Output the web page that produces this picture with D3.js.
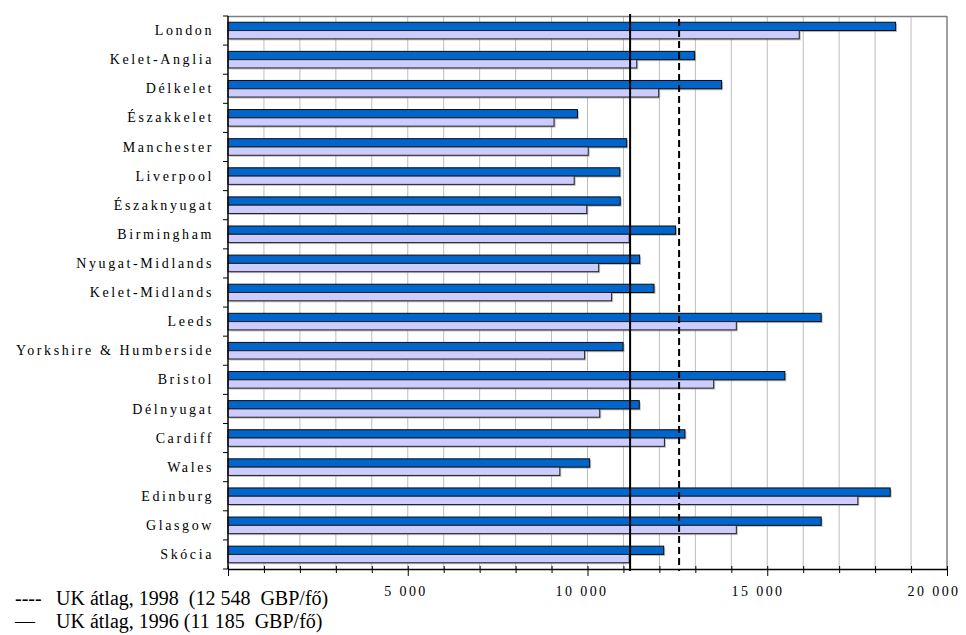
<!DOCTYPE html>
<html>
<head>
<meta charset="utf-8">
<script src="https://cdn.jsdelivr.net/npm/d3@7"></script>
<style>
  html, body { margin: 0; padding: 0; background: #fff; }
  svg { display: block; }
  text { font-family: "Liberation Serif", "Times New Roman", serif; fill: #000; }
</style>
</head>
<body>
<svg id="chart" width="966" height="635"></svg>
<script>
// Regional GDP per head (GBP/fő): 1998 (dark) and 1996 (light)
const categories = [
  "London", "Kelet-Anglia", "Délkelet", "Északkelet", "Manchester", "Liverpool",
  "Északnyugat", "Birmingham", "Nyugat-Midlands", "Kelet-Midlands", "Leeds",
  "Yorkshire & Humberside", "Bristol", "Délnyugat", "Cardiff", "Wales",
  "Edinburg", "Glasgow", "Skócia"
];
const values1998 = [18570, 12980, 13730, 9720, 11090, 10900, 10910, 12450, 11450, 11850,
                    16500, 10990, 15490, 11440, 12710, 10060, 18420, 16500, 12120];
const values1996 = [15890, 11370, 11980, 9070, 10020, 9630, 9980, 11160, 10310, 10670,
                    14140, 9920, 13510, 10340, 12140, 9230, 17520, 14140, 11160];
const ukAvg1998 = 12548;
const ukAvg1996 = 11185;
const xTickLabels = [5000, 10000, 15000, 20000];
const legendItems = [
  { mark: "----", text: "UK átlag, 1998  (12 548  GBP/fő)" },
  { mark: "—",    text: "UK átlag, 1996 (11 185  GBP/fő)" }
];

const svg = d3.select("#chart");
const plotLeft = 228, plotRight = 947, plotTop = 16, plotBottom = 569;

const x = d3.scaleLinear().domain([0, 20000]).range([plotLeft, plotRight]);
const y = d3.scaleBand().domain(categories).range([plotTop, plotBottom]).paddingInner(0).paddingOuter(0);
const bw = y.bandwidth();
const barH = bw * 0.285;
const groupOff = (bw - 2 * barH) / 2;

// vertical gridlines every 1000
svg.append("g").selectAll("line")
  .data(d3.range(1000, 20000, 1000))
  .join("line")
  .attr("x1", d => x(d)).attr("x2", d => x(d))
  .attr("y1", plotTop).attr("y2", plotBottom)
  .attr("stroke", "#bdbdbd").attr("stroke-width", 1);

// plot frame (top and right)
svg.append("line").attr("x1", plotLeft).attr("x2", plotRight).attr("y1", plotTop + 0.5).attr("y2", plotTop + 0.5)
  .attr("stroke", "#808080").attr("stroke-width", 1.5);
svg.append("line").attr("x1", plotRight).attr("x2", plotRight).attr("y1", plotTop).attr("y2", plotBottom)
  .attr("stroke", "#808080").attr("stroke-width", 1.5);

const rows = categories.map((c, i) => ({ c, v98: values1998[i], v96: values1996[i] }));

// bar shadows
const shadow = svg.append("g").attr("fill", "#8c8c8c").attr("opacity", 0.55);
rows.forEach(r => {
  shadow.append("rect").attr("x", x(0) + 1.5).attr("y", y(r.c) + groupOff + 1.5)
    .attr("width", x(r.v98) - x(0)).attr("height", barH);
  shadow.append("rect").attr("x", x(0) + 1.5).attr("y", y(r.c) + groupOff + barH + 1.5)
    .attr("width", x(r.v96) - x(0)).attr("height", barH);
});

// 1998 bars
svg.append("g").selectAll("rect")
  .data(rows).join("rect")
  .attr("x", x(0)).attr("y", d => y(d.c) + groupOff)
  .attr("width", d => x(d.v98) - x(0)).attr("height", barH)
  .attr("fill", "#0066cc").attr("stroke", "#0a0a0a").attr("stroke-width", 1);

// 1996 bars
svg.append("g").selectAll("rect")
  .data(rows).join("rect")
  .attr("x", x(0)).attr("y", d => y(d.c) + groupOff + barH)
  .attr("width", d => x(d.v96) - x(0)).attr("height", barH)
  .attr("fill", "#ccccff").attr("stroke", "#222").attr("stroke-width", 1);

// UK average reference lines
svg.append("line").attr("x1", x(ukAvg1996)).attr("x2", x(ukAvg1996))
  .attr("y1", plotTop - 2).attr("y2", plotBottom + 2)
  .attr("stroke", "#000").attr("stroke-width", 2);
svg.append("line").attr("x1", x(ukAvg1998)).attr("x2", x(ukAvg1998))
  .attr("y1", plotTop + 3).attr("y2", plotBottom + 2)
  .attr("stroke", "#000").attr("stroke-width", 2).attr("stroke-dasharray", "7,4");

// left axis with ticks between categories
svg.append("line").attr("x1", plotLeft).attr("x2", plotLeft).attr("y1", plotTop).attr("y2", plotBottom)
  .attr("stroke", "#000").attr("stroke-width", 1.5);
svg.append("g").selectAll("line")
  .data(d3.range(categories.length + 1))
  .join("line")
  .attr("x1", plotLeft - 5).attr("x2", plotLeft)
  .attr("y1", i => plotTop + i * bw).attr("y2", i => plotTop + i * bw)
  .attr("stroke", "#000").attr("stroke-width", 1);

// category labels
svg.append("g").selectAll("text")
  .data(categories).join("text")
  .attr("x", plotLeft - 14)
  .attr("y", d => y(d) + bw / 2 + 4.6)
  .attr("text-anchor", "end")
  .attr("font-size", 14)
  .attr("letter-spacing", "2.6px")
  .text(d => d);

// bottom axis
const xAxis = d3.axisBottom(x).tickValues(d3.range(0, 20001, 1000))
  .tickSize(0).tickFormat("");
const gx = svg.append("g").attr("transform", `translate(0,${plotBottom})`).call(xAxis);
gx.select(".domain").attr("stroke", "#000").attr("stroke-width", 1.5);
gx.selectAll(".tick").append("line")
  .attr("y1", -3)
  .attr("y2", d => d % 5000 === 0 ? 7 : 4)
  .attr("stroke", "#000").attr("stroke-width", 1);

// tick labels sit slightly left of their ticks, drifting further left toward the right end
svg.append("g").selectAll("text")
  .data(xTickLabels).join("text")
  .attr("x", d => x(d) + 2 - d * 0.00075)
  .attr("y", 596)
  .attr("text-anchor", "middle")
  .attr("font-size", 14)
  .attr("letter-spacing", "2.4px")
  .text(d => d3.format(",")(d).replace(",", " "));

// legend
const lg = svg.append("g");
legendItems.forEach((it, i) => {
  lg.append("text").attr("x", 15).attr("y", 605 + i * 23).attr("font-size", 20).text(it.mark);
  lg.append("text").attr("x", 56).attr("y", 605 + i * 23).attr("font-size", 20)
    .style("white-space", "pre").text(it.text);
});
</script>
</body>
</html>
